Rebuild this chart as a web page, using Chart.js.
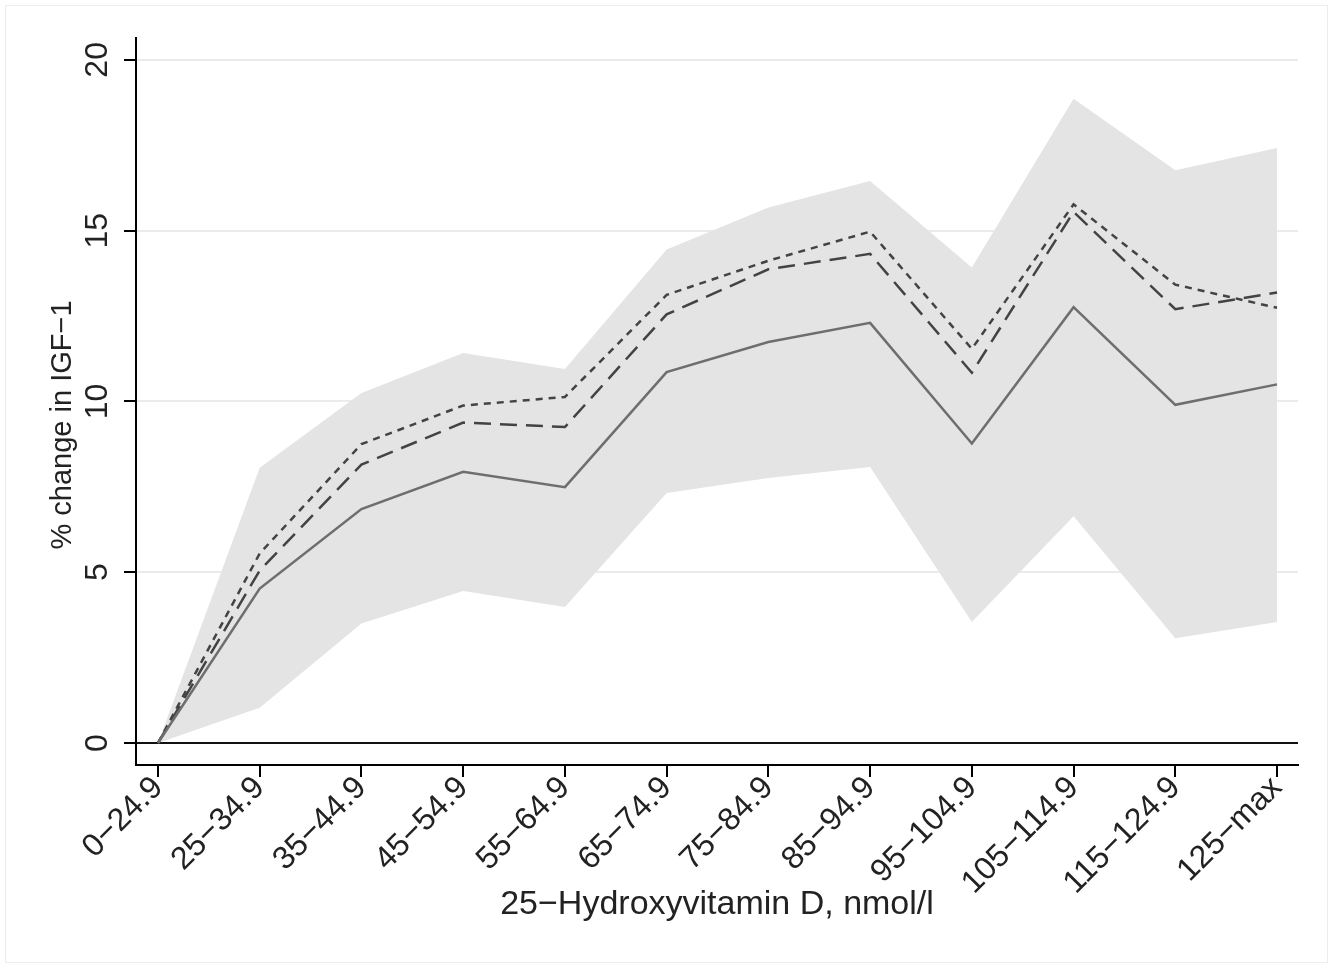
<!DOCTYPE html>
<html>
<head>
<meta charset="utf-8">
<script src="https://cdn.jsdelivr.net/npm/chart.js@4"></script>
<style>
  html, body { margin: 0; padding: 0; background: #fff; }
  #wrap { position: relative; width: 1331px; height: 968px; }
  #frame { position: absolute; left: 5px; top: 5px; width: 1323px; height: 958px; border: 1px solid #ececec; box-sizing: border-box; pointer-events: none; }
</style>
</head>
<body>
<div id="wrap">
  <div id="frame"></div>
  <canvas id="myChart" width="1331" height="968"></canvas>
</div>
<script>
// categories of 25-hydroxyvitamin D
const categories = ["0\u221224.9", "25\u221234.9", "35\u221244.9", "45\u221254.9", "55\u221264.9", "65\u221274.9",
  "75\u221284.9", "85\u221294.9", "95\u2212104.9", "105\u2212114.9", "115\u2212124.9", "125\u2212max"];

// series (% change in IGF-1)
const solidLine = [0, 4.52, 6.85, 7.94, 7.49, 10.86, 11.74, 12.3, 8.77, 12.76, 9.9, 10.5];
const longDash  = [0, 5.05, 8.15, 9.38, 9.25, 12.55, 13.87, 14.32, 10.84, 15.55, 12.7, 13.19];
const shortDash = [0, 5.55, 8.75, 9.88, 10.13, 13.12, 14.12, 14.97, 11.54, 15.77, 13.42, 12.74];
const bandUpper = [0, 8.06, 10.25, 11.42, 10.95, 14.45, 15.68, 16.45, 13.92, 18.86, 16.77, 17.42];
const bandLower = [0, 1.03, 3.5, 4.45, 3.98, 7.32, 7.76, 8.08, 3.54, 6.64, 3.07, 3.54];

const yTicks = [0, 5, 10, 15, 20];
const yTitle = '% change in IGF\u22121';

const FONT = "Liberation Sans, Arial, Helvetica, sans-serif";
const pts = arr => arr.map((v, i) => ({ x: i, y: v }));

// rotated y tick labels and y title
const yLabelsPlugin = {
  id: 'yLabels',
  afterDraw(chart) {
    const ctx = chart.ctx;
    const y = chart.scales.y;
    ctx.save();
    ctx.fillStyle = '#222';
    ctx.textAlign = 'center';
    ctx.textBaseline = 'alphabetic';
    ctx.font = '32px ' + FONT;
    y.ticks.forEach(t => {
      ctx.save();
      ctx.translate(107, y.getPixelForValue(t.value));
      ctx.rotate(-Math.PI / 2);
      ctx.fillText(String(t.value), 0, 0);
      ctx.restore();
    });
    ctx.font = '29px ' + FONT;
    ctx.translate(71, 425);
    ctx.rotate(-Math.PI / 2);
    ctx.fillText(yTitle, 0, 0);
    ctx.restore();
  }
};

new Chart(document.getElementById('myChart').getContext('2d'), {
  type: 'line',
  data: {
    datasets: [
      { data: pts(bandUpper), borderWidth: 0, pointRadius: 0, backgroundColor: '#e4e4e4', fill: '+1', tension: 0 },
      { data: pts(bandLower), borderWidth: 0, pointRadius: 0, backgroundColor: '#e4e4e4', fill: false, tension: 0 },
      { data: pts(solidLine), borderColor: '#6e6e6e', borderWidth: 2.5, pointRadius: 0, fill: false, tension: 0 },
      { data: pts(longDash), borderColor: '#434343', borderWidth: 2.5, borderDash: [17, 9], pointRadius: 0, fill: false, tension: 0 },
      { data: pts(shortDash), borderColor: '#434343', borderWidth: 2.5, borderDash: [7, 6], pointRadius: 0, fill: false, tension: 0 }
    ]
  },
  options: {
    responsive: false,
    animation: false,
    events: [],
    layout: { padding: { left: 0, right: 33, top: 38, bottom: 0 } },
    plugins: {
      legend: { display: false },
      tooltip: { enabled: false },
      filler: { drawTime: 'beforeDatasetsDraw' }
    },
    scales: {
      x: {
        type: 'linear',
        min: -0.216,
        max: 11.206,
        afterBuildTicks: s => { s.ticks = categories.map((c, i) => ({ value: i })); },
        afterFit: s => { s.height = 203; },
        ticks: {
          callback: v => categories[v],
          minRotation: 45,
          maxRotation: 45,
          autoSkip: false,
          padding: -8,
          color: '#222',
          font: { family: FONT, size: 32 }
        },
        grid: { drawOnChartArea: false, drawTicks: true, tickLength: 12, color: '#000', lineWidth: 2 },
        border: { display: true, color: '#000', width: 2 },
        title: {
          display: true,
          text: '25\u2212Hydroxyvitamin D, nmol/l',
          color: '#222',
          font: { family: FONT, size: 34 },
          padding: { top: 0, bottom: 43 }
        }
      },
      y: {
        min: -0.644,
        max: 20.64,
        afterBuildTicks: s => { s.ticks = yTicks.map(v => ({ value: v })); },
        afterFit: s => { s.width = 136; },
        ticks: { callback: () => '', padding: 0 },
        grid: {
          color: c => (c.tick && c.tick.value === 0) ? '#111' : '#ebebeb',
          lineWidth: 2,
          tickColor: '#000',
          tickLength: 12
        },
        border: { display: true, color: '#000', width: 2 }
      }
    }
  },
  plugins: [yLabelsPlugin]
});
</script>
</body>
</html>
